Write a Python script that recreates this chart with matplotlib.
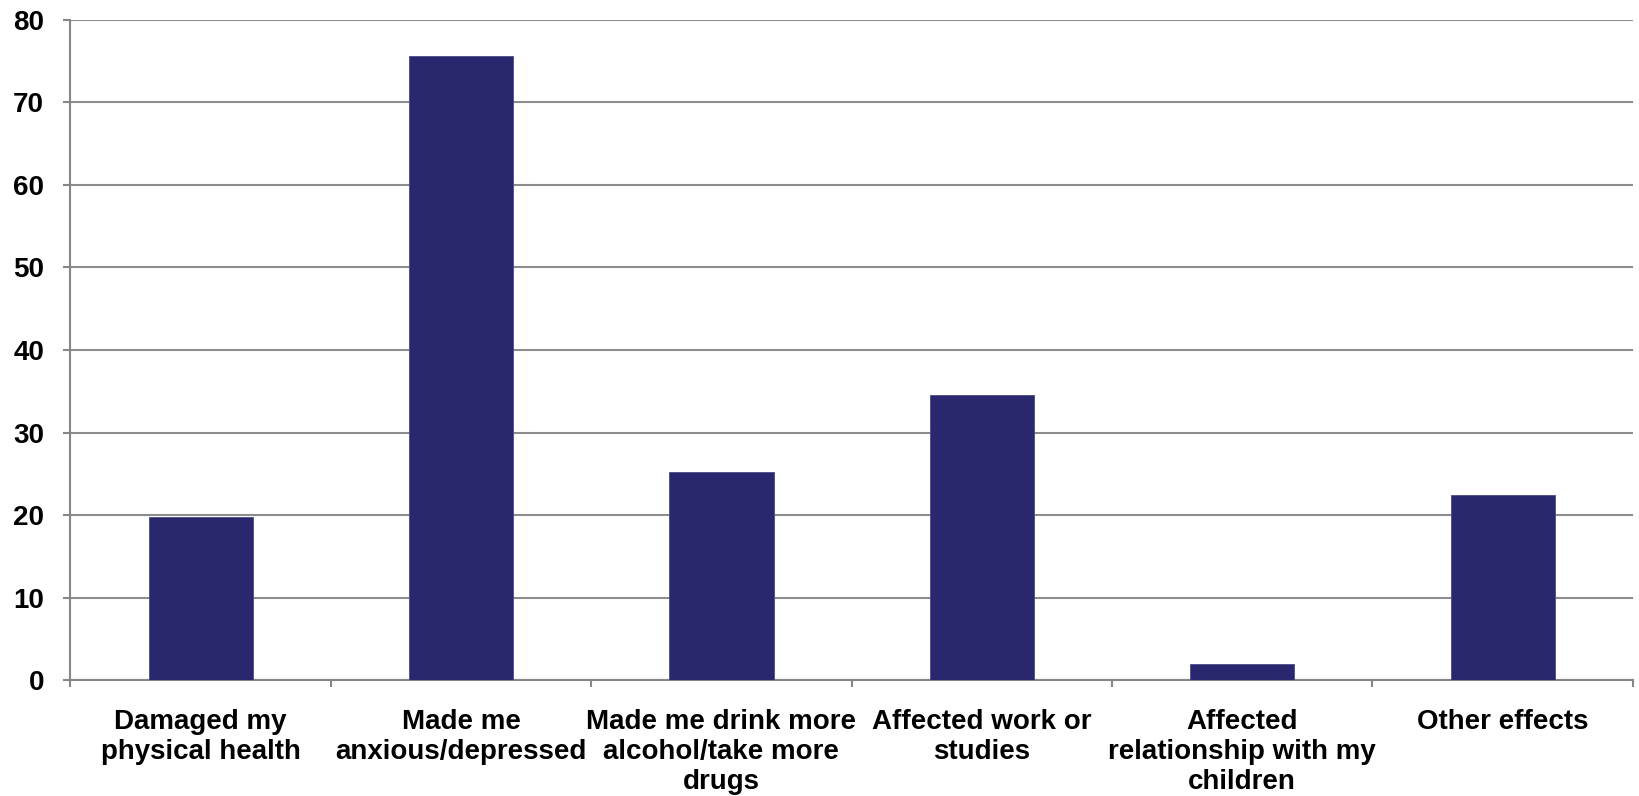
import numpy as np
import matplotlib.pyplot as plt

categories = ['Damaged my\nphysical health', 'Made me\nanxious/depressed',
              'Made me drink more\nalcohol/take more\ndrugs', 'Affected work or\nstudies',
              'Affected\nrelationship with my\nchildren', 'Other effects']
values = [19.8, 75.6, 25.2, 34.5, 1.9, 22.4]
yticks = [0, 10, 20, 30, 40, 50, 60, 70, 80]

plt.rcParams['font.family'] = ['Liberation Sans', 'DejaVu Sans']
plt.rcParams['font.weight'] = 'bold'

fig = plt.figure(figsize=(16.39, 7.96), dpi=100)
ax = fig.add_axes([0.043, 0.1457, 0.9532, 0.8292])

x = np.arange(len(categories)) + 0.5
ax.bar(x, values, width=0.4, color='#29286F', edgecolor='#4a4a88', linewidth=0.6, zorder=3)

ax.set_xlim(0, len(categories))
ax.set_ylim(0, 80)
ax.set_yticks(yticks)
ax.yaxis.grid(True, color='#8c8c8c', linewidth=1.5, zorder=0)

# boundary ticks as major, labels at centres as minor
ax.set_xticks(np.arange(len(categories) + 1))
ax.set_xticklabels([])
ax.set_xticks(x, minor=True)
ax.set_xticklabels(categories, minor=True, fontsize=20, fontweight='bold', linespacing=1.2)
ax.tick_params(axis='x', which='minor', length=0, pad=21)
ax.tick_params(axis='x', which='major', length=5, width=1.5, color='#868686', direction='out')
ax.tick_params(axis='y', length=5, width=1.5, color='#868686', pad=14, labelsize=20)
for lab in ax.get_yticklabels():
    lab.set_fontweight('bold')

for side in ['top', 'right']:
    ax.spines[side].set_visible(False)
for side in ['left', 'bottom']:
    ax.spines[side].set_color('#868686')
    ax.spines[side].set_linewidth(1.5)

fig.savefig('out.png', dpi=100)
